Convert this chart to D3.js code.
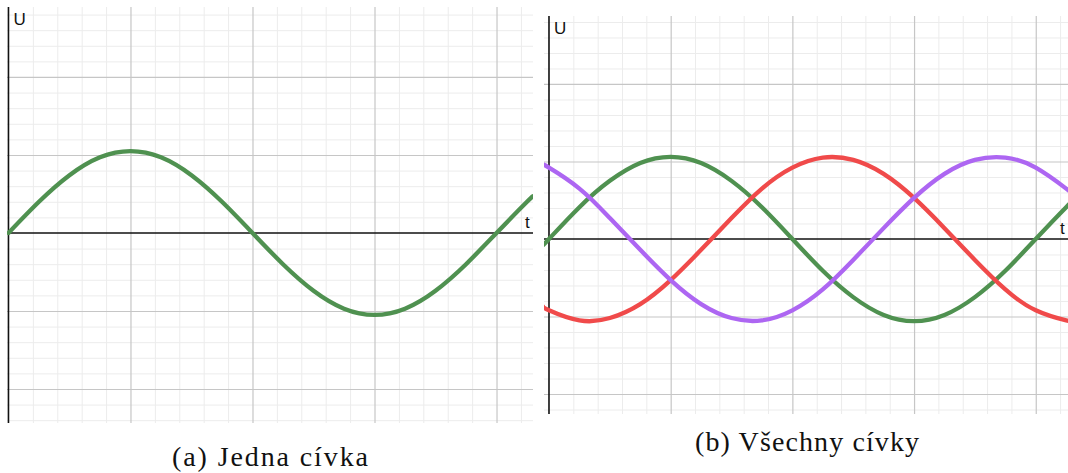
<!DOCTYPE html>
<html>
<head>
<meta charset="utf-8">
<script src="https://cdn.jsdelivr.net/npm/d3@7"></script>
<style>
  html, body { margin: 0; padding: 0; background: #fff; }
  svg { display: block; }
  .lbl { font-family: "Liberation Sans", Arial, sans-serif; font-size: 17px; fill: #111; }
  .cap { font-family: "Liberation Serif", "DejaVu Serif", serif; font-size: 28px; fill: #111; }
</style>
</head>
<body>
<svg id="chart" width="1068" height="473"></svg>
<script>
// time samples (one major grid step = a quarter period)
const tSamples = [0, 0.25, 0.5, 0.75, 1, 1.25, 1.5, 1.75, 2, 2.25, 2.5, 2.75, 3, 3.25, 3.5, 3.75, 4, 4.25, 4.3];

// (a) single coil voltage
const singleCoil = [0, 0.40, 0.74, 0.97, 1.05, 0.97, 0.74, 0.40, 0, -0.40, -0.74, -0.97, -1.05, -0.97, -0.74, -0.40, 0, 0.40, 0.47];

// (b) three coils, 120° apart
const tSamples3 = [-0.05, 0, 0.25, 0.5, 0.75, 1, 1.25, 1.5, 1.75, 2, 2.25, 2.5, 2.75, 3, 3.25, 3.5, 3.75, 4, 4.25, 4.3];
const coilGreen  = [-0.08, 0, 0.41, 0.75, 0.98, 1.06, 0.98, 0.75, 0.41, 0, -0.41, -0.75, -0.98, -1.06, -0.98, -0.75, -0.41, 0, 0.41, 0.48];
const coilRed    = [-0.87, -0.92, -1.05, -1.02, -0.84, -0.53, -0.14, 0.27, 0.65, 0.92, 1.05, 1.02, 0.84, 0.53, 0.14, -0.27, -0.65, -0.92, -1.05, -1.06];
const coilPurple = [0.96, 0.92, 0.65, 0.27, -0.14, -0.53, -0.84, -1.02, -1.05, -0.92, -0.65, -0.27, 0.14, 0.53, 0.84, 1.02, 1.05, 0.92, 0.65, 0.59];

const axisLabels = { y: "U", x: "t" };
const captions = ["(a) Jedna cívka", "(b) Všechny cívky"];

const colors = { green: "#4f9150", red: "#f04a4a", purple: "#ad66f2" };

const svg = d3.select("#chart");

function panel(cfg) {
  const x = d3.scaleLinear().domain(cfg.xDomain).range([cfg.left, cfg.right]);
  const y = d3.scaleLinear().domain(cfg.yDomain).range([cfg.bottom, cfg.top]);
  const g = svg.append("g");
  const clipId = "clip" + cfg.id;
  svg.append("clipPath").attr("id", clipId)
    .append("rect").attr("x", cfg.left).attr("y", cfg.top)
    .attr("width", cfg.right - cfg.left).attr("height", cfg.bottom - cfg.top);

  const step = 0.2;
  const xs = d3.range(Math.ceil(cfg.xDomain[0] / step), Math.floor(cfg.xDomain[1] / step) + 1).map(i => +(i * step).toFixed(2));
  const ys = d3.range(Math.ceil(cfg.yDomain[0] / step), Math.floor(cfg.yDomain[1] / step) + 1).map(i => +(i * step).toFixed(2));
  const isMajor = v => Math.abs(v - Math.round(v)) < 1e-6;

  // minor grid
  g.append("g").attr("transform", `translate(0,${cfg.bottom})`)
    .call(d3.axisBottom(x).tickValues(xs.filter(v => !isMajor(v))).tickSize(-(cfg.bottom - cfg.top)).tickFormat(""))
    .call(s => s.select(".domain").remove())
    .call(s => s.selectAll("line").attr("stroke", "#ececec").attr("stroke-width", 1));
  g.append("g").attr("transform", `translate(${cfg.left},0)`)
    .call(d3.axisLeft(y).tickValues(ys.filter(v => !isMajor(v))).tickSize(-(cfg.right - cfg.left)).tickFormat(""))
    .call(s => s.select(".domain").remove())
    .call(s => s.selectAll("line").attr("stroke", "#ececec").attr("stroke-width", 1));
  // major grid
  g.append("g").attr("transform", `translate(0,${cfg.bottom})`)
    .call(d3.axisBottom(x).tickValues(xs.filter(v => isMajor(v) && v !== 0)).tickSize(-(cfg.bottom - cfg.top)).tickFormat(""))
    .call(s => s.select(".domain").remove())
    .call(s => s.selectAll("line").attr("stroke", "#c6c6c6").attr("stroke-width", 1.2));
  g.append("g").attr("transform", `translate(${cfg.left},0)`)
    .call(d3.axisLeft(y).tickValues(ys.filter(v => isMajor(v) && v !== 0)).tickSize(-(cfg.right - cfg.left)).tickFormat(""))
    .call(s => s.select(".domain").remove())
    .call(s => s.selectAll("line").attr("stroke", "#c6c6c6").attr("stroke-width", 1.2));

  // axes
  g.append("line").attr("x1", cfg.left).attr("x2", cfg.right).attr("y1", y(0)).attr("y2", y(0))
    .attr("stroke", "#111").attr("stroke-width", 1.4);
  g.append("line").attr("x1", x(0)).attr("x2", x(0)).attr("y1", cfg.top).attr("y2", cfg.bottom)
    .attr("stroke", "#111").attr("stroke-width", 1.6);

  g.append("text").attr("class", "lbl").attr("x", x(0) + 5).attr("y", cfg.top + 18).text(axisLabels.y);
  g.append("text").attr("class", "lbl").attr("x", cfg.right - 8).attr("y", y(0) - 5).text(axisLabels.x);

  const line = d3.line().x(d => x(d[0])).y(d => y(d[1])).curve(d3.curveNatural);
  cfg.series.forEach(s => {
    g.append("path")
      .attr("clip-path", `url(#${clipId})`)
      .attr("d", line(cfg.t.map((t, i) => [t, s.values[i]])))
      .attr("fill", "none").attr("stroke", s.color).attr("stroke-width", 4.3)
      .attr("stroke-linecap", "round").attr("stroke-linejoin", "round");
  });

  g.append("text").attr("class", "cap")
    .attr("x", cfg.capX).attr("y", cfg.capY)
    .attr("text-anchor", "middle")
    .attr("textLength", cfg.capW).attr("lengthAdjust", "spacing")
    .text(cfg.caption);
}

panel({
  id: "a", left: 7, right: 533, top: 7, bottom: 423,
  xDomain: [-0.012, 4.299], yDomain: [-2.436, 2.897],
  t: tSamples,
  series: [{ values: singleCoil, color: colors.green }],
  caption: captions[0], capX: 270, capY: 466, capW: 196
});

panel({
  id: "b", left: 544, right: 1068, top: 16, bottom: 414,
  xDomain: [-0.041, 4.265], yDomain: [-2.258, 2.877],
  t: tSamples3,
  series: [
    { values: coilGreen, color: colors.green },
    { values: coilRed, color: colors.red },
    { values: coilPurple, color: colors.purple }
  ],
  caption: captions[1], capX: 807, capY: 451, capW: 224
});
</script>
</body>
</html>
